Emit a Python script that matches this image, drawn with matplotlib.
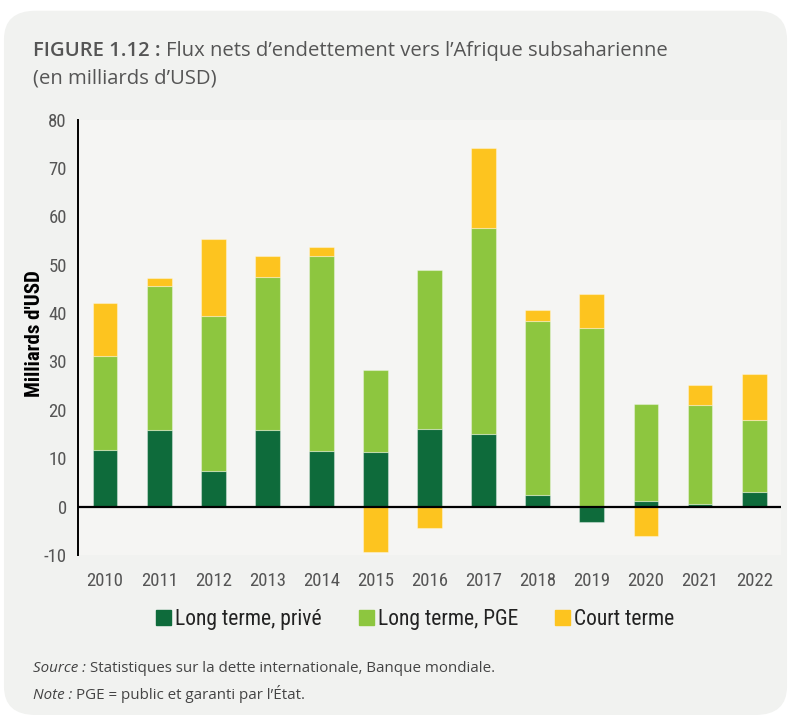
import numpy as np
import matplotlib.pyplot as plt
from matplotlib.patches import FancyBboxPatch, Rectangle
from matplotlib import font_manager

years = ["2010", "2011", "2012", "2013", "2014", "2015", "2016",
         "2017", "2018", "2019", "2020", "2021", "2022"]
prive = [11.8, 15.8, 7.4, 15.9, 11.4, 11.2, 16.0, 15.1, 2.5, -3.1, 1.2, 0.5, 3.0]
pge = [19.4, 29.7, 31.9, 31.6, 40.3, 17.1, 33.0, 42.4, 35.9, 37.0, 20.0, 20.5, 15.0]
court = [10.9, 1.8, 16.1, 4.2, 2.0, -9.4, -4.4, 16.7, 2.2, 6.9, -6.0, 4.2, 9.4]

series = [("Long terme, privé", prive, "#0e6b3b"),
          ("Long terme, PGE", pge, "#8dc63f"),
          ("Court terme", court, "#fdc41f")]

# condensed font if one happens to be there, otherwise Lato
installed = {f.name for f in font_manager.fontManager.ttflist}
narrow = ["Lato", "DejaVu Sans"]
for cand in ["Roboto Condensed", "Liberation Sans Narrow", "Open Sans Condensed", "DejaVu Sans Condensed"]:
    if cand in installed:
        narrow = [cand, "DejaVu Sans"]
        break
body = ["Open Sans", "DejaVu Sans"]
grey = "#555555"

fig = plt.figure(figsize=(7.91, 7.15), dpi=100)
fig.patch.set_facecolor("white")
card = FancyBboxPatch((0.005, 0.0), 0.99, 0.985, boxstyle="round,pad=0,rounding_size=0.04",
                      transform=fig.transFigure, facecolor="#f1f2f0", edgecolor="none", zorder=-5)
fig.patches.append(card)

ax = fig.add_axes([0.0986, 0.2238, 0.889, 0.609])
ax.set_zorder(2)
ax.patch.set_facecolor("#f5f5f3")

x = np.arange(len(years))
pos_base = np.zeros(len(years))
neg_base = np.zeros(len(years))
for name, vals, col in series:
    v = np.array(vals)
    bottoms = np.where(v >= 0, pos_base, neg_base)
    ax.bar(x, v, bottom=bottoms, width=0.46, color=col, edgecolor=(1, 1, 1, 0.35),
           linewidth=0.8, label=name, zorder=2)
    pos_base = pos_base + np.clip(v, 0, None)
    neg_base = neg_base + np.clip(v, None, 0)

ax.axhline(0, color="black", lw=1.6, zorder=3)
ax.set_xlim(-0.5, 12.5)
ax.set_ylim(-10, 80)
ax.set_yticks(range(-10, 81, 10))
ax.set_yticklabels([str(t) for t in range(-10, 81, 10)])
ax.set_xticks(x)
ax.set_xticklabels(years)
for s in ["top", "right", "bottom"]:
    ax.spines[s].set_visible(False)
ax.spines["left"].set_linewidth(1.4)
ax.tick_params(axis="y", length=0, pad=8, labelsize=13.5, labelcolor="#555555")
ax.tick_params(axis="x", length=0, pad=12, labelsize=13.5, labelcolor="#555555")
for lab in ax.get_xticklabels() + ax.get_yticklabels():
    lab.set_family(narrow)

fig.text(0.044, 0.534, "Milliards d'USD", rotation=90, ha="center", va="center",
         fontsize=15, fontweight="bold", family=narrow, color="black")

fig.canvas.draw()
r = fig.canvas.get_renderer()
t1 = fig.text(0.042, 0.922, "FIGURE 1.12 :", fontsize=14.6, fontweight="semibold", color=grey, family=body)
w = t1.get_window_extent(renderer=r).width / fig.bbox.width
fig.text(0.042 + w + 0.007, 0.922, "Flux nets d’endettement vers l’Afrique subsaharienne",
         fontsize=14.6, color=grey, family=body)
fig.text(0.042, 0.883, "(en milliards d’USD)", fontsize=14.6, color=grey, family=body)

handles = [Rectangle((0, 0), 1, 1, color=c) for _, _, c in series]
leg = fig.legend(handles, [n for n, _, _ in series], loc="center", bbox_to_anchor=(0.525, 0.134),
                 ncol=3, frameon=False, handlelength=0.7, handleheight=0.7, handletextpad=0.2,
                 columnspacing=1.7, prop={"family": narrow, "size": 15.5})
for t in leg.get_texts():
    t.set_color("#222222")

for ypos, lead, rest in [(0.060, "Source :", "Statistiques sur la dette internationale, Banque mondiale."),
                         (0.023, "Note :", "PGE = public et garanti par l’État.")]:
    s1 = fig.text(0.042, ypos, lead, fontsize=10.9, style="italic", color="#444444", family=body)
    w = s1.get_window_extent(renderer=r).width / fig.bbox.width
    fig.text(0.042 + w + 0.005, ypos, rest, fontsize=10.9, color="#444444", family=body)

fig.savefig("out.png", dpi=100)
